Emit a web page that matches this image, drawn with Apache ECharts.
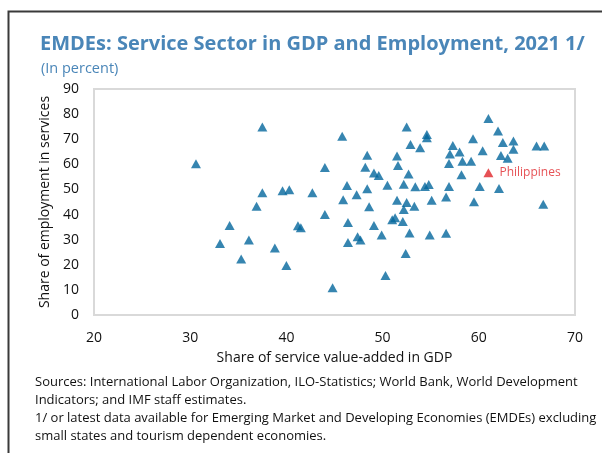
<!DOCTYPE html>
<html>
<head>
<meta charset="utf-8">
<script src="https://cdn.jsdelivr.net/npm/echarts@6/dist/echarts.min.js"></script>
<style>
html,body{margin:0;padding:0;background:#fff;}
#chart{width:602px;height:453px;}
</style>
</head>
<body>
<div id="chart"></div>
<script>
// Service value-added share of GDP (x) and employment share in services (y)
const serviceGDP = [30.6,37.5,45.8,48.4,51.5,52.5,52.9,53.9,44.0,48.2,49.1,49.6,51.6,52.7,37.5,39.6,40.3,42.7,46.3,47.3,48.4,50.5,52.2,53.4,61.0,62.0,54.6,54.6,57.3,57.0,58.0,59.4,60.4,62.5,63.6,63.6,62.3,63.0,66.0,66.8,56.9,58.3,59.2,58.2,54.4,54.8,56.9,60.1,62.1,55.1,56.6,53.3,59.5,66.7,52.8,54.9,56.6,36.9,34.1,33.1,36.1,35.3,44.0,41.2,41.5,38.8,40.0,44.8,45.9,48.6,46.4,46.4,47.4,47.7,49.1,49.9,50.3,51.5,52.5,52.2,51.0,51.3,52.1,52.4];
const serviceEmp = [60.2,74.9,71.2,63.6,63.3,74.9,67.9,66.6,58.7,58.8,56.5,55.6,59.5,56.2,48.7,49.5,49.9,48.7,51.6,47.9,50.3,51.7,52.1,51.1,78.3,73.3,71.9,70.6,67.5,64.1,64.9,70.2,65.4,68.7,69.3,66.0,63.5,62.4,67.3,67.3,60.3,61.2,61.2,55.9,51.2,52.0,51.2,51.2,50.4,45.7,47.0,43.3,45.1,44.1,32.7,31.9,32.6,43.3,35.6,28.5,29.9,22.3,40.0,35.5,34.7,26.7,19.7,10.9,45.9,43.1,36.8,28.9,31.2,29.9,35.6,31.9,15.7,45.7,44.8,42.0,37.9,38.7,37.2,24.5];
const highlightName = ["Philippines"];
const highlightPoint = [61.0, 56.6];
const xTicks = [20,30,40,50,60,70];
const yTicks = [0,10,20,30,40,50,60,70,80,90];

const titleText = "EMDEs: Service Sector in GDP and Employment, 2021 1/";
const subtitleText = "(In percent)";
const notes = [
  "Sources: International Labor Organization, ILO-Statistics; World Bank, World Development",
  "Indicators; and IMF staff estimates.",
  "1/ or latest data available for Emerging Market and Developing Economies (EMDEs) excluding",
  "small states and tourism dependent economies."
];

const FONT = "'Open Sans', 'Noto Sans', sans-serif";
const points = serviceGDP.map((x, i) => [x, serviceEmp[i]]);

const chart = echarts.init(document.getElementById('chart'), null, {renderer: 'canvas'});
chart.setOption({
  animation: false,
  backgroundColor: '#fff',
  textStyle: {fontFamily: FONT},
  title: [
    {text: titleText, left: 35, top: 29, textStyle: {fontFamily: FONT, fontSize: 20, fontWeight: 'bold', color: '#4a86b8'}},
    {text: subtitleText, left: 36, top: 56, textStyle: {fontFamily: FONT, fontSize: 14.5, fontWeight: 'normal', color: '#4a86b8'}}
  ],
  grid: {left: 94, top: 89, right: 27, bottom: 138, show: true, borderColor: '#d9d9d9', borderWidth: 2, containLabel: false},
  xAxis: {
    type: 'value', min: xTicks[0], max: xTicks[xTicks.length-1], interval: 10,
    name: 'Share of service value-added in GDP', nameLocation: 'middle', nameGap: 36,
    nameTextStyle: {fontFamily: FONT, fontSize: 14, color: '#111'},
    axisLine: {show: false}, axisTick: {show: false}, splitLine: {show: false},
    axisLabel: {fontFamily: FONT, fontSize: 14, color: '#111', margin: 16}
  },
  yAxis: {
    type: 'value', min: yTicks[0], max: yTicks[yTicks.length-1], interval: 10,
    name: 'Share of employment in services', nameLocation: 'middle', nameGap: 33,
    nameTextStyle: {fontFamily: FONT, fontSize: 14, color: '#111'},
    axisLine: {show: false}, axisTick: {show: false}, splitLine: {show: false},
    axisLabel: {fontFamily: FONT, fontSize: 14, color: '#111', margin: 15}
  },
  series: [
    {
      type: 'scatter', symbol: 'triangle', symbolSize: [10, 9],
      itemStyle: {color: '#04679c'},
      data: points
    },
    {
      type: 'scatter', symbol: 'triangle', symbolSize: [10, 9],
      itemStyle: {color: '#e0262a'},
      label: {show: true, position: 'right', distance: 6, formatter: highlightName[0], fontFamily: FONT, fontSize: 12, color: '#e0262a'},
      data: [highlightPoint]
    }
  ],
  graphic: [
    {type: 'rect', shape: {x: 8.5, y: 11.5, width: 700, height: 600}, style: {fill: 'none', stroke: '#3a3a3a', lineWidth: 2}, silent: true},
    {type: 'text', left: 35, top: 373, style: {text: notes.join('\n'), font: "13px " + FONT, fill: '#111', lineHeight: 18}}
  ]
});
</script>
</body>
</html>
